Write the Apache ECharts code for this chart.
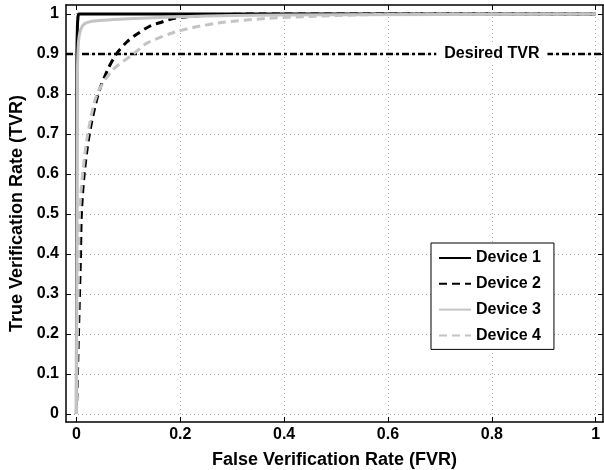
<!DOCTYPE html>
<html>
<head>
<meta charset="utf-8">
<script src="https://cdn.jsdelivr.net/npm/echarts@6/dist/echarts.min.js"></script>
<style>
  html, body { margin: 0; padding: 0; background: #fff; }
  #chart { width: 604px; height: 470px; }
</style>
</head>
<body>
<div id="chart"></div>
<script>
// tick labels
const xTicks = [0, 0.2, 0.4, 0.6, 0.8, 1];
const yTicks = [0, 0.1, 0.2, 0.3, 0.4, 0.5, 0.6, 0.7, 0.8, 0.9, 1];

// ROC curves (FVR, TVR)
const device1Fvr = [0, 0.0005, 0.001, 0.002, 0.003, 0.005, 1];
const device1Tvr = [0, 0.6, 0.9, 0.97, 0.99, 1, 1];

const device2Fvr = [0, 0.002, 0.004, 0.006, 0.008, 0.0096, 0.015, 0.025, 0.042, 0.06, 0.077, 0.097, 0.117, 0.142, 0.165, 0.187, 0.25, 0.35, 1];
const device2Tvr = [0, 0.1, 0.2, 0.3, 0.4, 0.5, 0.6, 0.7, 0.8, 0.86, 0.9, 0.93, 0.95, 0.97, 0.98, 0.989, 0.997, 1, 1];

const device3Fvr = [0, 0.001, 0.002, 0.004, 0.008, 0.015, 0.03, 0.06, 0.1, 0.2, 0.3, 0.5, 1];
const device3Tvr = [0, 0.5, 0.85, 0.93, 0.96, 0.975, 0.982, 0.985, 0.988, 0.993, 0.996, 0.998, 1];

const device4Fvr = [0, 0.002, 0.004, 0.006, 0.012, 0.022, 0.04, 0.07, 0.11, 0.136, 0.193, 0.27, 0.367, 0.45, 0.55, 0.7, 1];
const device4Tvr = [0, 0.2, 0.35, 0.5, 0.6, 0.7, 0.8, 0.86, 0.9, 0.927, 0.956, 0.977, 0.989, 0.994, 0.998, 1, 1];

const desiredFvr = [-0.02, 1.02];
const desiredTvr = [0.9, 0.9];
const desiredLabelAt = [0.8, 0.9];

const zip = (xs, ys) => xs.map((x, i) => [x, ys[i]]);

const font = "Liberation Sans";
const gray = "#c4c4c4";

const chart = echarts.init(document.getElementById("chart"));

function lineSeries(name, xs, ys, color, type) {
  return {
    name: name,
    type: "line",
    data: zip(xs, ys),
    symbol: "none",
    smooth: 0.3,
    lineStyle: { color: color, width: 3, type: type },
    itemStyle: { color: color },
    z: 3
  };
}

const tickCommon = {
  show: true,
  inside: true,
  length: 5,
  lineStyle: { color: "#000", width: 1 }
};

const option = {
  animation: false,
  textStyle: { fontFamily: font },
  grid: {
    left: 66,
    right: 1,
    top: 5,
    bottom: 48,
    outerBoundsMode: "none",
    containLabel: false
  },
  legend: {
    data: ["Device 1", "Device 2", "Device 3", "Device 4"],
    orient: "vertical",
    left: 431,
    top: 243,
    backgroundColor: "#fff",
    borderColor: "#000",
    borderWidth: 1,
    borderRadius: 0,
    padding: [7, 13, 6, 7],
    itemWidth: 32,
    itemHeight: 14,
    itemGap: 9.8,
    itemTextGap: 6,
    itemStyle: { opacity: 0 },
    textStyle: {
      fontFamily: font,
      fontWeight: "bold",
      fontSize: 16,
      lineHeight: 14,
      color: "#000"
    }
  },
  xAxis: [
    {
      type: "value",
      min: -0.02,
      max: 1.014,
      name: "False Verification Rate (FVR)",
      nameLocation: "middle",
      nameGap: 29,
      nameTextStyle: { fontFamily: font, fontWeight: "bold", fontSize: 18, color: "#000" },
      axisLine: { show: true, onZero: false, lineStyle: { color: "#000", width: 1.5 } },
      axisTick: Object.assign({ customValues: xTicks }, tickCommon),
      axisLabel: {
        customValues: xTicks,
        margin: 5,
        fontFamily: font,
        fontWeight: "bold",
        fontSize: 16,
        color: "#000"
      },
      splitLine: { show: true, lineStyle: { color: "#aaa", width: 1, type: [1, 3] } }
    },
    {
      type: "value",
      position: "top",
      min: -0.02,
      max: 1.014,
      axisLine: { show: true, onZero: false, lineStyle: { color: "#000", width: 1.5 } },
      axisTick: Object.assign({ customValues: xTicks }, tickCommon),
      axisLabel: { show: false, customValues: xTicks },
      splitLine: { show: false }
    }
  ],
  yAxis: [
    {
      type: "value",
      min: -0.02,
      max: 1.0225,
      name: "True Verification Rate (TVR)",
      nameLocation: "middle",
      nameGap: 39,
      nameTextStyle: { fontFamily: font, fontWeight: "bold", fontSize: 18, color: "#000" },
      axisLine: { show: true, onZero: false, lineStyle: { color: "#000", width: 1.5 } },
      axisTick: Object.assign({ customValues: yTicks }, tickCommon),
      axisLabel: {
        customValues: yTicks,
        margin: 7,
        fontFamily: font,
        fontWeight: "bold",
        fontSize: 16,
        color: "#000"
      },
      splitLine: { show: true, lineStyle: { color: "#aaa", width: 1, type: [1, 3] } }
    },
    {
      type: "value",
      position: "right",
      min: -0.02,
      max: 1.0225,
      axisLine: { show: true, onZero: false, lineStyle: { color: "#000", width: 1.5 } },
      axisTick: Object.assign({ customValues: yTicks }, tickCommon),
      axisLabel: { show: false, customValues: yTicks },
      splitLine: { show: false }
    }
  ],
  series: [
    {
      name: "Desired TVR",
      type: "line",
      data: zip(desiredFvr, desiredTvr),
      symbol: "none",
      lineStyle: { color: "#000", width: 2.5, type: [7, 3, 3, 3] },
      z: 2,
      markPoint: {
        symbol: "rect",
        symbolSize: 0,
        data: [{ coord: desiredLabelAt }],
        label: {
          show: true,
          position: "inside",
          formatter: "Desired TVR",
          fontFamily: font,
          fontWeight: "bold",
          fontSize: 16,
          color: "#000",
          backgroundColor: "#fff",
          padding: [2, 8, 2, 8]
        }
      }
    },
    lineSeries("Device 1", device1Fvr, device1Tvr, "#000", "solid"),
    lineSeries("Device 2", device2Fvr, device2Tvr, "#000", [8, 5]),
    lineSeries("Device 3", device3Fvr, device3Tvr, gray, "solid"),
    lineSeries("Device 4", device4Fvr, device4Tvr, gray, [8, 5])
  ]
};

chart.setOption(option);
</script>
</body>
</html>
